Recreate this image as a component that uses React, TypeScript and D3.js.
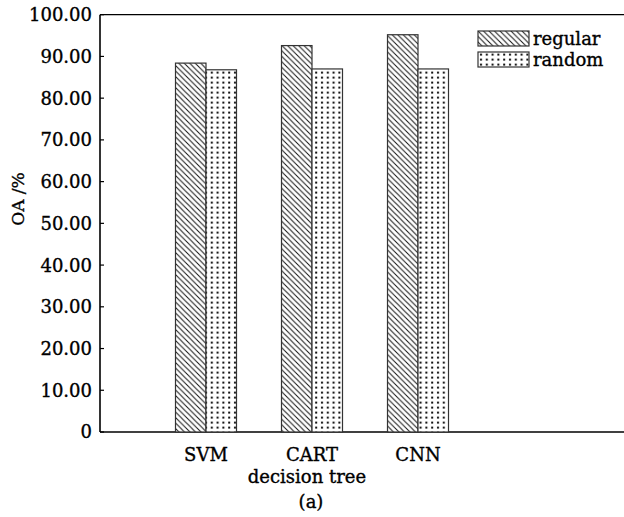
import React from "react";
import * as d3 from "d3";

const categories = ["SVM", "CART", "CNN"];
const seriesNames = ["regular", "random"];
const regularValues = [88.4, 92.6, 95.2];
const randomValues = [86.8, 87.0, 87.0];
const yTicks = [0, 10, 20, 30, 40, 50, 60, 70, 80, 90, 100];

const W = 624;
const H = 517;
const FONT = "DejaVu Serif";

const txt = { fill: "#000", stroke: "#000", strokeWidth: 0.35, fontSize: 18 } as const;

export default function App() {
  const x0 = 100;
  const yBottom = 432;
  const yTop = 14.7;
  const y = d3.scaleLinear().domain([0, 100]).range([yBottom, yTop]);
  const x = d3
    .scaleBand<string>()
    .domain(categories)
    .range([x0 + 106 * 0.5, x0 + 106 * 3.5])
    .paddingInner(0)
    .paddingOuter(0);
  const sub = d3.scaleBand<string>().domain(seriesNames).range([-30.5, 30.5]);
  const series = [regularValues, randomValues];
  const fills = ["url(#hatch)", "url(#dots)"];

  return (
    <svg
      width={W}
      height={H}
      style={{ position: "absolute", left: 0, top: 0, background: "#fff" }}
      fontFamily={FONT}
    >
      <defs>
        <pattern id="hatch" patternUnits="userSpaceOnUse" width="5.5" height="5.5">
          <rect width="5.5" height="5.5" fill="#fff" />
          <path d="M-1,-1 L6.5,6.5 M-1,4.5 L1,6.5 M4.5,-1 L6.5,1" stroke="#111" strokeWidth="1" />
        </pattern>
        <pattern id="dots" patternUnits="userSpaceOnUse" width="5.8" height="5">
          <rect width="5.8" height="5" fill="#fff" />
          <rect x="2" y="1.6" width="2" height="2" fill="#111" />
        </pattern>
      </defs>
      {/* frame */}
      <line x1={x0} x2={W} y1={y(100)} y2={y(100)} stroke="#000" strokeWidth={1.3} />
      <line x1={x0} x2={W} y1={yBottom} y2={yBottom} stroke="#000" strokeWidth={1.6} />
      <line x1={x0} x2={x0} y1={y(100)} y2={yBottom} stroke="#000" strokeWidth={1.6} />
      {/* y ticks */}
      {yTicks.map((t) => (
        <g key={t}>
          <line x1={x0} x2={x0 + 4} y1={y(t)} y2={y(t)} stroke="#000" strokeWidth={1.2} />
          <text x={92} y={y(t)} dy="0.36em" textAnchor="end" {...txt}>
            {t === 0 ? "0" : t.toFixed(2)}
          </text>
        </g>
      ))}
      <text
        transform={`translate(24,199) rotate(-90)`}
        textAnchor="middle"
        {...txt}
        fontSize={17}
      >
        OA /%
      </text>
      {/* bars */}
      {categories.map((c, i) => {
        const cx = (x(c) as number) + x.bandwidth() / 2;
        return (
          <g key={c}>
            {series.map((vals, s) => (
              <rect
                key={s}
                x={cx + (sub(seriesNames[s]) as number)}
                y={y(vals[i])}
                width={sub.bandwidth()}
                height={yBottom - y(vals[i])}
                fill={fills[s]}
                stroke="#333"
                strokeWidth={1.2}
              />
            ))}
            <text x={cx} y={461} textAnchor="middle" {...txt}>
              {c}
            </text>
          </g>
        );
      })}
      <text x={307} y={483} textAnchor="middle" {...txt}>
        decision tree
      </text>
      <text x={311} y={508} textAnchor="middle" {...txt}>
        (a)
      </text>
      {/* legend */}
      {seriesNames.map((n, s) => (
        <g key={n} transform={`translate(478,${31 + s * 21})`}>
          <rect width={51} height={15} fill={fills[s]} stroke="#333" strokeWidth={1.2} />
          <text x={55} y={14} {...txt}>
            {n}
          </text>
        </g>
      ))}
    </svg>
  );
}
